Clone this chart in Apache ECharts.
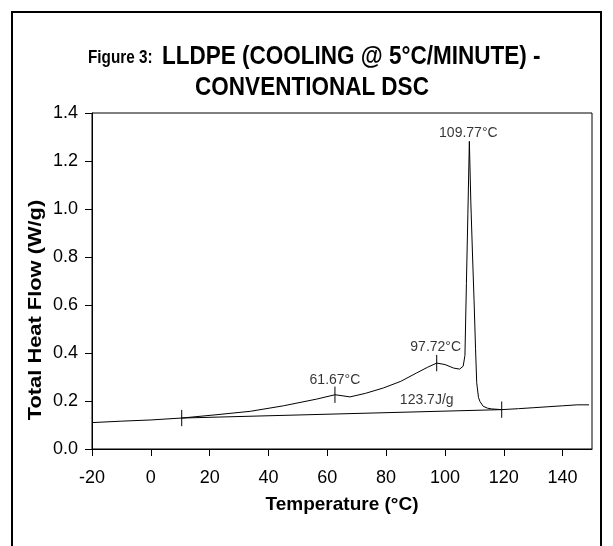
<!DOCTYPE html>
<html>
<head>
<meta charset="utf-8">
<script src="https://cdn.jsdelivr.net/npm/echarts@6/dist/echarts.min.js"></script>
<style>
html,body{margin:0;padding:0;background:#fff;}
#chart{width:613px;height:546px;}
</style>
</head>
<body>
<div id="chart"></div>
<script>
// ---- data ----
var temperature = [-20, -10, 0, 10.5, 22.5, 33.8, 45.1, 56.4, 62.6, 65.0, 67.7, 73, 79.0, 85, 90.4, 94, 97.2, 100, 103, 105, 106.2, 106.8, 107.3, 107.8, 108.3, 108.8, 109.4, 109.9, 110.4, 110.8, 111.4, 111.9, 113, 114.5, 115.9, 119.3, 125, 130, 135, 140, 145, 149];
var heatFlow    = [0.110, 0.116, 0.121, 0.129, 0.143, 0.157, 0.180, 0.208, 0.226, 0.222, 0.217, 0.232, 0.254, 0.282, 0.317, 0.340, 0.358, 0.352, 0.337, 0.333, 0.345, 0.39, 0.69, 0.98, 1.282, 1.03, 0.80, 0.62, 0.42, 0.276, 0.215, 0.198, 0.178, 0.170, 0.167, 0.164, 0.168, 0.172, 0.176, 0.180, 0.184, 0.184];
var baselineT = [10.5, 119.3];
var baselineV = [0.129, 0.164];
var eventT = [10.5, 62.6, 97.2, 119.3];
var eventV = [0.129, 0.226, 0.358, 0.164];
var peakLabels = ['61.67°C', '97.72°C', '109.77°C'];
var peakT = [62.6, 97.2, 108.3];
var peakV = [0.226, 0.358, 1.282];
var enthalpyLabel = '123.7J/g';
var enthalpyT = 93.8;
var enthalpyV = 0.205;
var xTicks = [-20, 0, 20, 40, 60, 80, 100, 120, 140];
var yTicks = [0.0, 0.2, 0.4, 0.6, 0.8, 1.0, 1.2, 1.4];
var titleFigure = 'Figure 3:';
var titleLine1 = 'LLDPE (COOLING @ 5°C/MINUTE) -';
var titleLine2 = 'CONVENTIONAL DSC';
var xTitle = 'Temperature (°C)';
var yTitle = 'Total Heat Flow (W/g)';

var FONT = '"Liberation Sans", Arial, sans-serif';

var curve = temperature.map(function (t, i) { return [t, heatFlow[i]]; });
var baseline = baselineT.map(function (t, i) { return [t, baselineV[i]]; });
var tickHalf = 0.034;

var series = [
  { type: 'line', data: curve, showSymbol: false, symbol: 'none', lineStyle: { color: '#000', width: 1 }, silent: true, z: 3 },
  { type: 'line', data: baseline, showSymbol: false, symbol: 'none', lineStyle: { color: '#000', width: 1 }, silent: true, z: 3 }
];
eventT.forEach(function (t, i) {
  series.push({ type: 'line', data: [[t, eventV[i] - tickHalf], [t, eventV[i] + tickHalf]], showSymbol: false, symbol: 'none', lineStyle: { color: '#000', width: 1 }, silent: true });
});
var labelOffsets = [[0, -3], [-1, -4], [-1, 4]];
series.push({
  type: 'scatter', symbolSize: 0, silent: true,
  data: peakT.map(function (t, i) {
    return { value: [t, peakV[i]], label: { show: true, position: 'top', offset: labelOffsets[i], formatter: peakLabels[i] } };
  }),
  label: { color: '#000', fontSize: 14, fontFamily: FONT }
});
series.push({
  type: 'scatter', symbolSize: 0, silent: true,
  data: [{ value: [enthalpyT, enthalpyV], label: { show: true, position: 'inside', formatter: enthalpyLabel } }],
  label: { color: '#000', fontSize: 14, fontFamily: FONT }
});

var chart = echarts.init(document.getElementById('chart'), null, { renderer: 'canvas' });
chart.setOption({
  backgroundColor: '#fff',
  animation: false,
  graphic: [
    {
      type: 'polyline', silent: true,
      shape: { points: [[12, 546], [12, 12], [601, 12], [601, 546]] },
      style: { stroke: '#000', lineWidth: 2, fill: null }
    },
    {
      type: 'text', silent: true, x: 88, y: 58, scaleX: 0.85,
      style: { text: titleFigure, font: 'bold 18px ' + FONT, fill: '#000', textAlign: 'left', textVerticalAlign: 'middle' }
    },
    {
      type: 'text', silent: true, x: 162, y: 57, scaleX: 0.9,
      style: { text: titleLine1, font: 'bold 25px ' + FONT, fill: '#000', textAlign: 'left', textVerticalAlign: 'middle' }
    },
    {
      type: 'text', silent: true, x: 312, y: 88, scaleX: 0.9,
      style: { text: titleLine2, font: 'bold 25px ' + FONT, fill: '#000', textAlign: 'center', textVerticalAlign: 'middle' }
    },
    {
      type: 'text', silent: true, x: 36, y: 310, scaleX: 1.15, rotation: Math.PI / 2,
      style: { text: yTitle, font: 'bold 19px ' + FONT, fill: '#000', textAlign: 'center', textVerticalAlign: 'middle' }
    }
  ],
  grid: { left: 92, top: 113, right: 21, bottom: 97, show: true, borderColor: '#000', borderWidth: 1, containLabel: false },
  xAxis: {
    type: 'value', min: -20, max: 150, interval: 20,
    name: xTitle, nameLocation: 'middle', nameGap: 46,
    nameTextStyle: { fontSize: 19, fontWeight: 'bold', fontFamily: FONT, color: '#000' },
    axisLine: { show: true, onZero: false, lineStyle: { color: '#000', width: 1 } },
    axisTick: { show: true, inside: false, length: 7, lineStyle: { color: '#000' }, customValues: xTicks },
    axisLabel: { fontSize: 18, fontFamily: FONT, color: '#000', margin: 20, customValues: xTicks },
    splitLine: { show: false }
  },
  yAxis: {
    type: 'value', min: 0, max: 1.4, interval: 0.2,
    axisLine: { show: true, onZero: false, lineStyle: { color: '#000', width: 1 } },
    axisTick: { show: true, inside: false, length: 7, lineStyle: { color: '#000' } },
    axisLabel: { fontSize: 18, fontFamily: FONT, color: '#000', margin: 14, formatter: function (v) { return v.toFixed(1); } },
    splitLine: { show: false }
  },
  series: series
});
</script>
</body>
</html>
